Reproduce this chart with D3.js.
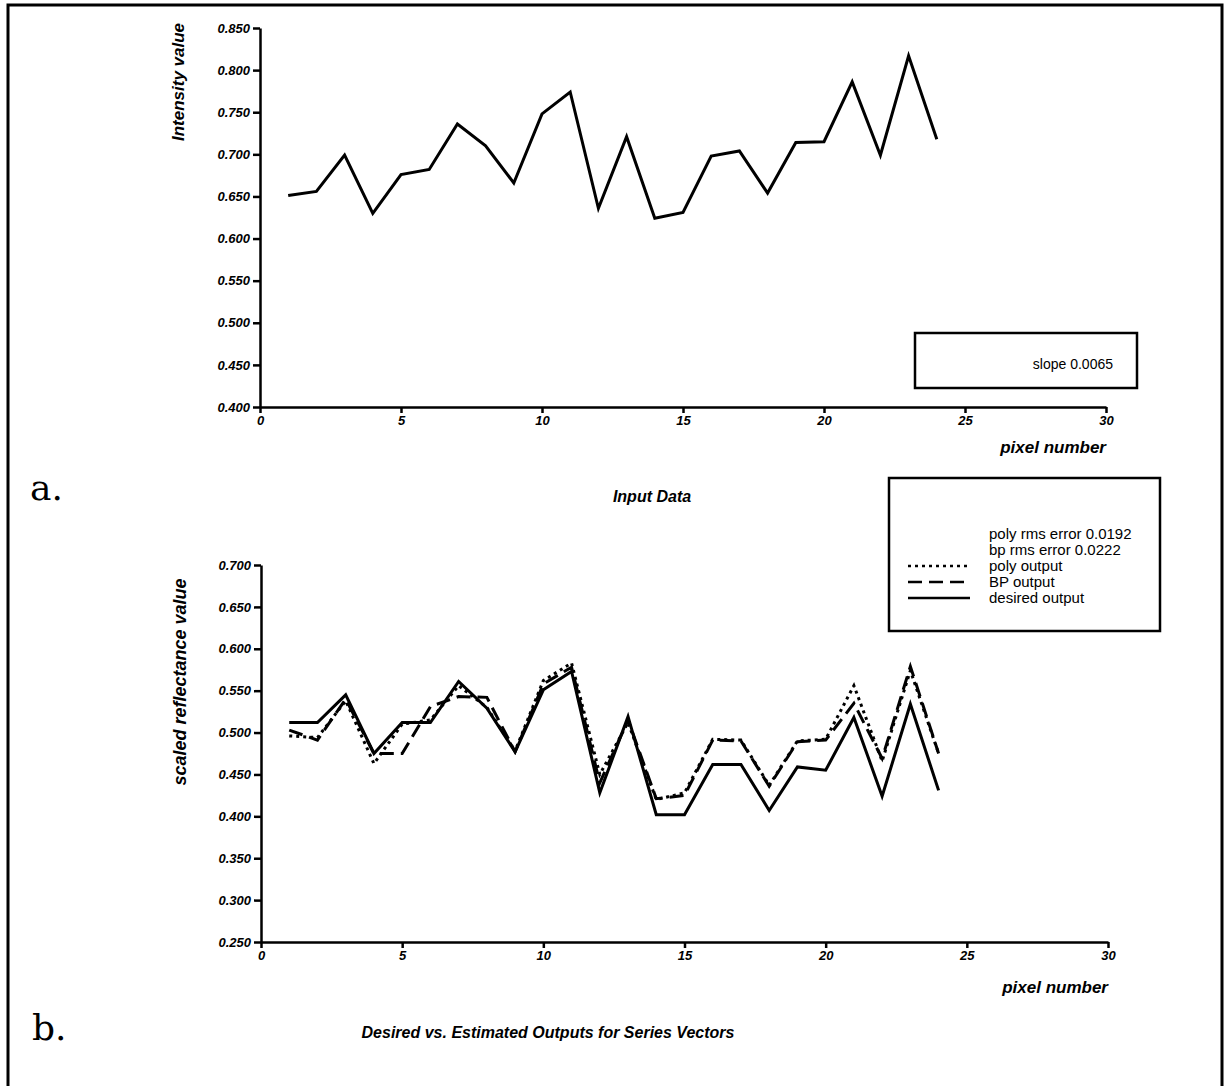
<!DOCTYPE html>
<html>
<head>
<meta charset="utf-8">
<script src="https://cdn.jsdelivr.net/npm/d3@7"></script>
<style>
  body { margin: 0; background: #fff; }
  .tick text { font-family: "Liberation Sans", Arial, sans-serif; font-weight: bold; font-style: italic; font-size: 13px; }
  .lab { font-family: "Liberation Sans", Arial, sans-serif; font-weight: bold; font-style: italic; }
  .leg { font-family: "Liberation Sans", Arial, sans-serif; font-size: 15px; }
</style>
</head>
<body>
<div id="chart"></div>
<script>
// data
var pixels = d3.range(1, 25);
var intensity = [0.651, 0.656, 0.699, 0.630, 0.676, 0.682, 0.736, 0.710, 0.666, 0.748, 0.774, 0.636,
                 0.721, 0.624, 0.631, 0.698, 0.704, 0.654, 0.714, 0.715, 0.786, 0.699, 0.817, 0.718];
var desiredOut = [0.512, 0.512, 0.545, 0.475, 0.512, 0.512, 0.561, 0.529, 0.477, 0.551, 0.573, 0.428,
                  0.519, 0.402, 0.402, 0.462, 0.462, 0.407, 0.459, 0.455, 0.518, 0.424, 0.534, 0.431];
var bpOut = [0.503, 0.491, 0.540, 0.475, 0.475, 0.531, 0.543, 0.542, 0.477, 0.558, 0.578, 0.440,
             0.515, 0.421, 0.425, 0.491, 0.490, 0.436, 0.489, 0.491, 0.535, 0.469, 0.579, 0.475];
var polyOut = [0.496, 0.494, 0.538, 0.463, 0.510, 0.515, 0.556, 0.530, 0.478, 0.562, 0.583, 0.450,
               0.512, 0.420, 0.428, 0.492, 0.491, 0.437, 0.490, 0.492, 0.556, 0.466, 0.574, 0.475];
var xTicks = [0, 5, 10, 15, 20, 25, 30];
var yTicksTop = [0.40, 0.45, 0.50, 0.55, 0.60, 0.65, 0.70, 0.75, 0.80, 0.85];
var yTicksBottom = [0.25, 0.30, 0.35, 0.40, 0.45, 0.50, 0.55, 0.60, 0.65, 0.70];
var legendText = ["poly rms error 0.0192", "bp rms error 0.0222", "poly output", "BP output", "desired output"];

var W = 1232, H = 1086;
var svg = d3.select("#chart").append("svg")
  .attr("width", W)
  .attr("height", H);

// page frame
svg.append("path")
  .attr("d", "M8," + H + "V5H1222V" + H)
  .attr("fill", "none")
  .attr("stroke", "#000")
  .attr("stroke-width", 3);

function drawAxes(x, y, yTicks) {
  var gx = svg.append("g")
    .attr("transform", "translate(0," + y.range()[0] + ")")
    .call(d3.axisBottom(x).tickValues(xTicks).tickSize(6).tickSizeOuter(0).tickPadding(3));
  var gy = svg.append("g")
    .attr("transform", "translate(" + x.range()[0] + ",0)")
    .call(d3.axisLeft(y).tickValues(yTicks).tickSize(7).tickSizeOuter(0).tickPadding(3).tickFormat(d3.format(".3f")));
  [gx, gy].forEach(function(g) {
    g.select(".domain").attr("stroke-width", 2.5);
    g.selectAll(".tick line").attr("stroke-width", 2.5);
  });
}

var line = function(x, y) {
  return d3.line()
    .x(function(d) { return x(d[0]); })
    .y(function(d) { return y(d[1]); });
};

// ---- a. input data
var x1 = d3.scaleLinear().domain([0, 30]).range([260, 1106]);
var y1 = d3.scaleLinear().domain([0.4, 0.85]).range([407, 28]);
drawAxes(x1, y1, yTicksTop);

svg.append("path")
  .datum(d3.zip(pixels, intensity))
  .attr("fill", "none")
  .attr("stroke", "#000")
  .attr("stroke-width", 3)
  .attr("stroke-linejoin", "miter")
  .attr("d", line(x1, y1));

svg.append("rect")
  .attr("x", 915).attr("y", 333)
  .attr("width", 222).attr("height", 55)
  .attr("fill", "none").attr("stroke", "#000").attr("stroke-width", 2.5);
svg.append("text").attr("class", "leg")
  .attr("x", 1113).attr("y", 369)
  .attr("text-anchor", "end")
  .style("font-size", "14px")
  .text("slope 0.0065");

svg.append("text").attr("class", "lab")
  .attr("transform", "translate(184,82)rotate(-90)")
  .attr("text-anchor", "middle")
  .style("font-size", "17px")
  .text("Intensity value");
svg.append("text").attr("class", "lab")
  .attr("x", 1106).attr("y", 453)
  .attr("text-anchor", "end")
  .style("font-size", "17px")
  .text("pixel number");
svg.append("text").attr("class", "lab")
  .attr("x", 652).attr("y", 502)
  .attr("text-anchor", "middle")
  .style("font-size", "16px")
  .text("Input Data");
svg.append("text")
  .attr("x", 30).attr("y", 500)
  .style("font-family", "'DejaVu Serif', 'Liberation Serif', serif")
  .style("font-size", "36px")
  .text("a.");

// ---- b. desired vs estimated
var x2 = d3.scaleLinear().domain([0, 30]).range([261, 1108]);
var y2 = d3.scaleLinear().domain([0.25, 0.7]).range([942, 565]);
drawAxes(x2, y2, yTicksBottom);

var series = [
  { values: polyOut, dash: "3,4" },
  { values: bpOut, dash: "14,7" },
  { values: desiredOut, dash: null }
];
series.forEach(function(s) {
  svg.append("path")
    .datum(d3.zip(pixels, s.values))
    .attr("fill", "none")
    .attr("stroke", "#000")
    .attr("stroke-width", 3)
    .attr("stroke-dasharray", s.dash)
    .attr("d", line(x2, y2));
});

// legend
svg.append("rect")
  .attr("x", 889).attr("y", 478)
  .attr("width", 271).attr("height", 153)
  .attr("fill", "#fff").attr("stroke", "#000").attr("stroke-width", 2.5);
legendText.forEach(function(t, i) {
  var yy = 534 + i * 16;
  svg.append("text").attr("class", "leg")
    .attr("x", 989).attr("y", yy + 5)
    .text(t);
  if (i >= 2) {
    svg.append("line")
      .attr("x1", 908).attr("x2", 970)
      .attr("y1", yy).attr("y2", yy)
      .attr("stroke", "#000").attr("stroke-width", 2.5)
      .attr("stroke-dasharray", series[i - 2].dash);
  }
});

svg.append("text").attr("class", "lab")
  .attr("transform", "translate(186,682)rotate(-90)")
  .attr("text-anchor", "middle")
  .style("font-size", "18px")
  .text("scaled reflectance value");
svg.append("text").attr("class", "lab")
  .attr("x", 1108).attr("y", 993)
  .attr("text-anchor", "end")
  .style("font-size", "17px")
  .text("pixel number");
svg.append("text").attr("class", "lab")
  .attr("x", 548).attr("y", 1038)
  .attr("text-anchor", "middle")
  .style("font-size", "16px")
  .text("Desired vs. Estimated Outputs for Series Vectors");
svg.append("text")
  .attr("x", 32).attr("y", 1040)
  .style("font-family", "'DejaVu Serif', 'Liberation Serif', serif")
  .style("font-size", "36px")
  .text("b.");
</script>
</body>
</html>
